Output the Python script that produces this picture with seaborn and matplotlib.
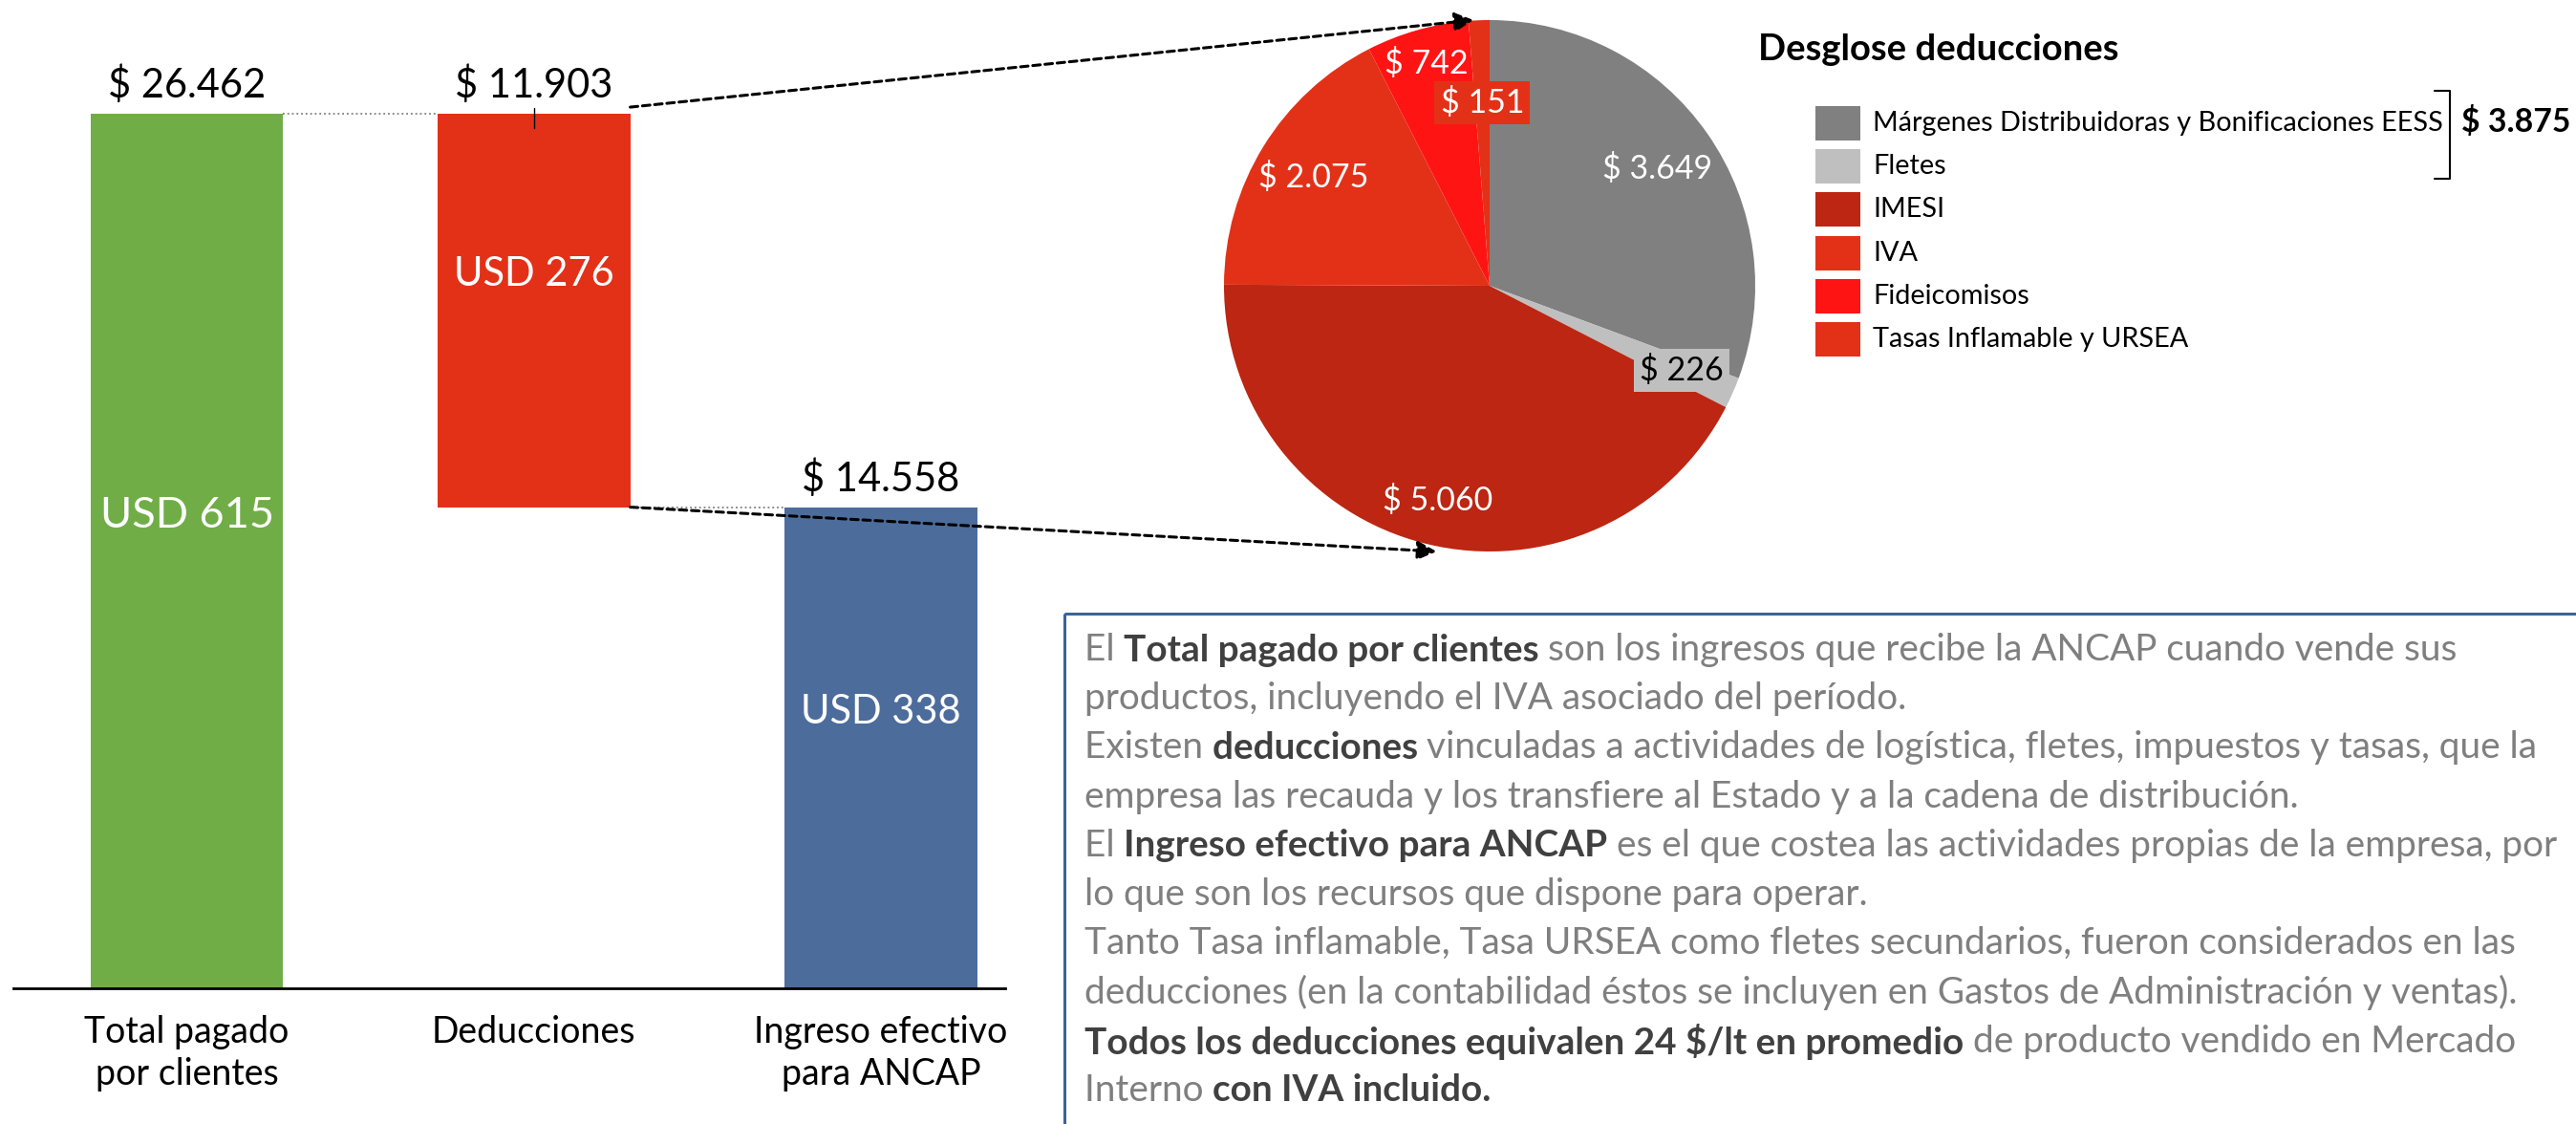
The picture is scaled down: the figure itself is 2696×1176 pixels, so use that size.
import numpy as np
import pandas as pd
import matplotlib
matplotlib.use("Agg")
import matplotlib.pyplot as plt
import seaborn as sns
from matplotlib.patches import Rectangle, ConnectionPatch

# ---------------- data ----------------
categories = ["Total pagado\npor clientes", "Deducciones", "Ingreso efectivo\npara ANCAP"]
pesos_values = [26462, 11903, 14558]
usd_values = [615, 276, 338]
bar_colors = ["#70AD47", "#E33118", "#4C6C9C"]

pie_labels = ["Márgenes Distribuidoras y Bonificaciones EESS", "Fletes", "IMESI", "IVA",
              "Fideicomisos", "Tasas Inflamable y URSEA"]
pie_values = [3649, 226, 5060, 2075, 742, 151]
pie_colors = ["#808080", "#BFBFBF", "#BC2612", "#E33118", "#FF1414", "#E33118"]
legend_title = "Desglose deducciones"

paragraph_lines = [
    [("El ", False), ("Total pagado por clientes ", True),
     ("son los ingresos que recibe la ANCAP cuando vende sus", False)],
    [("productos, incluyendo el IVA asociado del período.", False)],
    [("Existen ", False), ("deducciones ", True),
     ("vinculadas a actividades de logística, fletes, impuestos y tasas, que la", False)],
    [("empresa las recauda y los transfiere al Estado y a la cadena de distribución.", False)],
    [("El ", False), ("Ingreso efectivo para ANCAP ", True),
     ("es el que costea las actividades propias de la empresa, por", False)],
    [("lo que son los recursos que dispone para operar.", False)],
    [("Tanto Tasa inflamable, Tasa URSEA como fletes secundarios, fueron considerados en las", False)],
    [("deducciones (en la contabilidad éstos se incluyen en Gastos de Administración y ventas).", False)],
    [("Todos los deducciones equivalen 24 $/lt en promedio ", True),
     ("de producto vendido en Mercado", False)],
    [("Interno ", False), ("con IVA incluido.", True)],
]


def money(v):
    return "$ " + f"{v:,}".replace(",", ".")


# ---------------- style ----------------
sns.set_theme(style="white")
plt.rcParams["font.family"] = ["Lato", "DejaVu Sans"]

W, H = 2696, 1176
fig = plt.figure(figsize=(W / 100, H / 100), dpi=100)
fig.patch.set_facecolor("white")


def rect(x0, y0, x1, y1):
    return [x0 / W, 1 - y1 / H, (x1 - x0) / W, (y1 - y0) / H]


# ---------------- waterfall bars ----------------
ax = fig.add_axes(rect(14, 0, 1052, 1034))
df = pd.DataFrame({"categoria": categories, "valor": pesos_values})
bar_w = 0.555
sns.barplot(data=df, x="categoria", y="valor", hue="categoria", palette=bar_colors,
            saturation=1, width=bar_w, legend=False, ax=ax)
bottoms = [0, pesos_values[0] - pesos_values[1], 0]
bars = sorted(ax.patches, key=lambda p: p.get_x())
for p, b in zip(bars, bottoms):
    p.set_y(b)
    p.set_linewidth(0)

ax.set_xlim(-0.5, 2.358)
ax.set_ylim(0, pesos_values[0] * 1034 / 915)
sns.despine(ax=ax, left=True)
ax.spines["bottom"].set_color("black")
ax.spines["bottom"].set_linewidth(2)
ax.set_yticks([])
ax.set_xlabel("")
ax.set_ylabel("")
ax.set_facecolor("none")
ax.tick_params(axis="x", length=0, labelsize=27, pad=20, colors="black")
for tl in ax.get_xticklabels():
    tl.set_linespacing(1.3)

usd_sizes = [32.5, 30, 30]
for i, (p, b) in enumerate(zip(bars, bottoms)):
    h = p.get_height()
    ax.annotate(money(pesos_values[i]), (i, b + h), xytext=(0, 12), textcoords="offset points",
                ha="center", va="baseline", fontsize=30, color="black", parse_math=False)
    ax.annotate(f"USD {usd_values[i]}", (i, b + h / 2), xytext=(0, 27), textcoords="offset points",
                ha="center", va="center", fontsize=usd_sizes[i], color="white")

# connectors between bars
ax.plot([bar_w / 2, 1 - bar_w / 2], [pesos_values[0]] * 2, ls=":", color="#7F7F7F", lw=1.3)
ax.plot([1 + bar_w / 2, 2 - bar_w / 2], [bottoms[1]] * 2, ls=":", color="#7F7F7F", lw=1.3)
ax.plot([1, 1], [pesos_values[0] + 170, pesos_values[0] - 430], color="black", lw=1)

# ---------------- pie ----------------
pax = fig.add_axes(rect(1281, 21, 1837, 577))
wedges, _ = pax.pie(pie_values, colors=pie_colors, startangle=90, counterclock=False,
                    wedgeprops=dict(linewidth=0, edgecolor="none"))
pax.set_xlim(-1, 1)
pax.set_ylim(-1, 1)

label_r = [0.77, 0.79, 0.83, 0.78, 0.87, 0.69]
label_c = ["white", "black", "white", "white", "white", "white"]
label_box = [None, "#BFBFBF", None, None, None, "#E33118"]
for w, v, r, c, bx in zip(wedges, pie_values, label_r, label_c, label_box):
    ang = np.deg2rad((w.theta1 + w.theta2) / 2)
    kw = {}
    if bx:
        kw["bbox"] = dict(boxstyle="square,pad=0.18", facecolor=bx, edgecolor="none")
    pax.text(r * np.cos(ang), r * np.sin(ang), money(v), ha="center", va="center",
             fontsize=24.5, color=c, parse_math=False, **kw)

# dashed arrows from the deductions bar to the pie
for xyA, xyB in [((1 + bar_w / 2, pesos_values[0] + 200), (-0.06, 1.0)),
                 ((1 + bar_w / 2, bottoms[1]), (-0.2, -1.0))]:
    con = ConnectionPatch(xyA=xyA, coordsA=ax.transData, xyB=xyB, coordsB=pax.transData,
                          arrowstyle="-|>", linestyle=(0, (2.6, 1.6)), linewidth=2.2,
                          color="black", mutation_scale=30)
    fig.add_artist(con)

# ---------------- overlay: legend + text box ----------------
ov = fig.add_axes([0, 0, 1, 1])
ov.set_xlim(0, W)
ov.set_ylim(H, 0)
ov.axis("off")

ov.text(1840, 52, legend_title, fontsize=27.5, fontweight="bold", va="center", ha="left", color="black")
for i, (lab, col) in enumerate(zip(pie_labels, pie_colors)):
    yc = 129 + i * 45.2
    ov.add_patch(Rectangle((1900, yc - 18), 47, 36, facecolor=col, edgecolor="none"))
    ov.text(1960, yc, lab, fontsize=20.8, va="center", ha="left", color="black")
ov.plot([2548, 2564, 2564, 2548], [95, 95, 187, 187], color="black", lw=1.5)
ov.text(2576, 128, money(pie_values[0] + pie_values[1]), fontsize=24.3, fontweight="bold",
        va="center", ha="left", color="black", parse_math=False)

ov.add_patch(Rectangle((1114, 642), 1800, 800, fill=False, edgecolor="#3A6596", lw=2.2))

renderer = fig.canvas.get_renderer()


def seg_width(s, size, bold):
    fw = "bold" if bold else "normal"
    t = ov.text(0, 0, s + "|", fontsize=size, fontweight=fw, parse_math=False)
    t2 = ov.text(0, 0, "|", fontsize=size, fontweight=fw, parse_math=False)
    wd = t.get_window_extent(renderer).width - t2.get_window_extent(renderer).width
    t.remove()
    t2.remove()
    return wd


base = 20
ref_w = sum(seg_width(s, base, b) for s, b in paragraph_lines[2])
psize = base * 1520 / ref_w

for i, line in enumerate(paragraph_lines):
    x = 1135
    y = 680 + i * 51.2
    for s, b in line:
        ov.text(x, y, s, fontsize=psize, fontweight="bold" if b else "normal",
                color="#404040" if b else "#7F7F7F", va="center", ha="left", parse_math=False)
        x += seg_width(s, psize, b)

fig.savefig("out.png", dpi=100, facecolor="white")
